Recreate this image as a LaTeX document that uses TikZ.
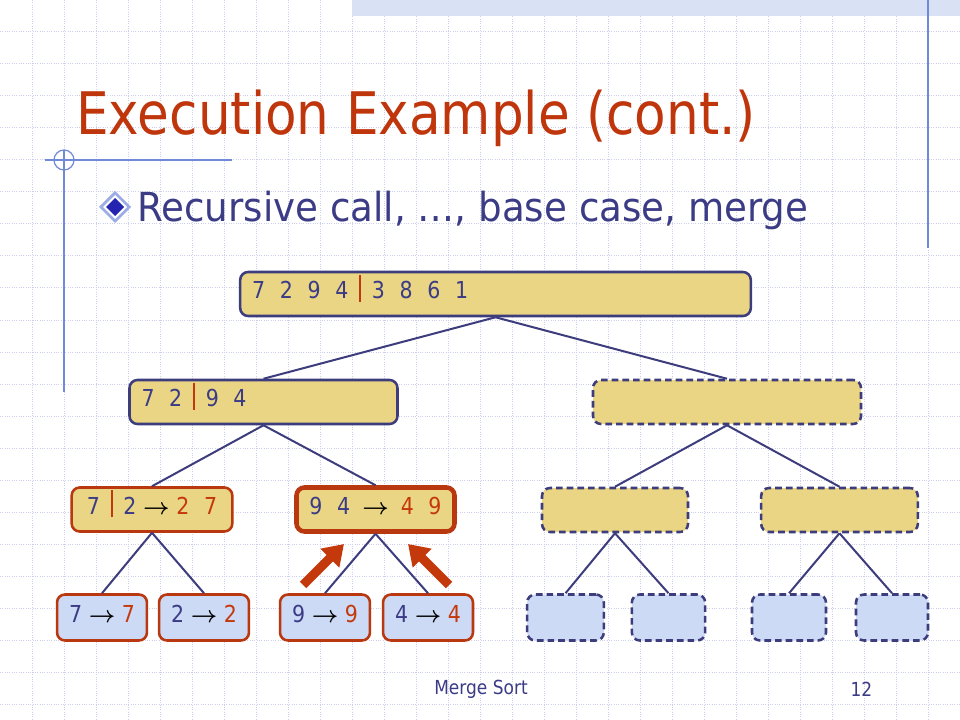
\documentclass[tikz,border=0pt]{standalone}
\usepackage{fontspec}
\usepackage{amsmath}
\setmainfont{DejaVu Sans}[FakeStretch=0.88]
\newfontfamily\bulletfont{DejaVu Sans}[FakeStretch=0.93]
\usetikzlibrary{arrows.meta,positioning}

\definecolor{sand}{HTML}{E9D583}
\definecolor{sky}{HTML}{CCDAF6}
\definecolor{navy}{HTML}{3D3C7C}
\definecolor{rust}{HTML}{B9380F}
\definecolor{ink}{HTML}{3B3B86}
\definecolor{hot}{HTML}{C4390B}
\definecolor{headred}{HTML}{C0360C}
\definecolor{rule}{HTML}{7289DA}
\definecolor{gridc}{HTML}{CDD0EC}
\definecolor{band}{HTML}{D9E1F5}

\newcommand{\cut}{\hspace{8pt}\textcolor{hot}{\rule[-0.13em]{1.6pt}{1.16em}}\hspace{8pt}}
\newcommand{\sk}{\hspace{11pt}}
\newcommand{\goes}{\hspace{5pt}\textcolor{black}{$\boldsymbol{\rightarrow}$}\hspace{5pt}}
\newcommand{\hl}[1]{\textcolor{hot}{#1}}

\begin{document}
\begin{tikzpicture}[x=0.75pt,y=-0.75pt,
  every node/.style={font=\fontsize{17.5}{20}\selectfont, text=ink},
  seq/.style={rectangle,rounded corners=6pt,draw=navy,line width=1.9pt,fill=sand,
    text height=1.1em,text depth=0.37em,inner xsep=9pt,inner ysep=0pt,minimum height=33pt},
  solved/.style={seq,draw=rust},
  base/.style={seq,draw=rust,fill=sky,minimum height=34.5pt},
  todo/.style={seq,dashed,dash pattern=on 5pt off 3pt},
  todo base/.style={todo,fill=sky,minimum height=34.5pt},
  tree/.style={draw=navy,line width=1.5pt},
  push/.style={draw=hot,line width=6.8pt,-{Triangle[length=15pt,width=19pt]}}]

  \useasboundingbox (0,0) rectangle (960,720);
  \fill[white] (0,0) rectangle (960,720);

  % grid paper
  \foreach \gx in {32,64,...,928}
    \draw[gridc,line width=0.75pt,densely dotted] (\gx,0) -- (\gx,720);
  \foreach \gy in {32,64,...,704}
    \draw[gridc,line width=0.75pt,densely dotted] (0,\gy) -- (960,\gy);
  \fill[band] (352,0) rectangle (960,16);

  % slide rules
  \draw[rule,line width=0.9pt] (928,0) -- (928,248);
  \draw[rule,line width=0.9pt] (45,160) -- (232,160);
  \draw[rule,line width=0.9pt] (64,150) -- (64,392);
  \draw[rule,line width=0.9pt] (64,160) circle [radius=10];

  % heading
  \node[anchor=base west,inner sep=0pt,text=headred,font=\fontsize{44}{50}\selectfont]
    (title) at (76,135) {Execution Example (cont.)};
  \fill[rule!70] (115,191) -- (131,207) -- (115,223) -- (99,207) -- cycle;
  \fill[white] (115,195) -- (127,207) -- (115,219) -- (103,207) -- cycle;
  \fill[navy!60!blue] (115,198) -- (124,207) -- (115,216) -- (106,207) -- cycle;
  \node[anchor=base west,inner sep=0pt,font=\bulletfont\fontsize{30}{36}\selectfont]
    (bullet) at (137,222) {Recursive call, …, base case, merge};

  % recursion tree
  \node[seq,minimum width=383pt,text width=365pt,align=left] (all) at (495.5,294)
    {7\sk2\sk9\sk4\cut3\sk8\sk6\sk1};
  \node[seq,minimum width=201pt,text width=183pt,align=left] (half_l) at (263.5,402)
    {7\sk2\cut9\sk4};
  \node[todo,minimum width=201pt] (half_r) at (727,402) {};

  \node[solved,minimum width=120.5pt] (q_1) at (152,509.5)
    {7\cut2\goes\hl{2\sk7}};
  \node[solved,line width=3.4pt,inner xsep=3pt,minimum width=118.5pt] (q_2) at (375.5,509.5)
    {9\hspace{11pt}4\hspace{4pt}\goes\hspace{4pt}\hl{4\hspace{11pt}9}};
  \node[todo,minimum width=109.5pt] (q_3) at (615,510) {};
  \node[todo,minimum width=117.5pt] (q_4) at (839.5,510) {};

  \node[base,minimum width=57pt] (s_1) at (102,617.5) {7\goes\hl{7}};
  \node[base,minimum width=66pt] (s_2) at (204,617.5) {2\goes\hl{2}};
  \node[base,minimum width=55.5pt] (s_3) at (325,617.5) {9\goes\hl{9}};
  \node[base,minimum width=54pt] (s_4) at (428,617.5) {4\goes\hl{4}};
  \node[todo base,minimum width=57.5pt] (s_5) at (565.5,617.5) {};
  \node[todo base,minimum width=55pt] (s_6) at (668.5,617.5) {};
  \node[todo base,minimum width=55.5pt] (s_7) at (789,617.5) {};
  \node[todo base,minimum width=54pt] (s_8) at (892,617.5) {};

  \path[tree]
    (all.south) edge (half_l.north)
    (all.south) edge (half_r.north)
    (half_l.south) edge (q_1.north)
    (half_l.south) edge (q_2.north)
    (half_r.south) edge (q_3.north)
    (half_r.south) edge (q_4.north)
    (q_1.south) edge (s_1.north)
    (q_1.south) edge (s_2.north)
    (q_2.south) edge (s_3.north)
    (q_2.south) edge (s_4.north)
    (q_3.south) edge (s_5.north)
    (q_3.south) edge (s_6.north)
    (q_4.south) edge (s_7.north)
    (q_4.south) edge (s_8.north);

  % merge arrows
  \coordinate (tail_l) at (303,585);
  \coordinate (tip_l) at (344,544);
  \coordinate (tail_r) at (449,585);
  \coordinate (tip_r) at (408,544);
  \draw[push] (tail_l) -- (tip_l);
  \draw[push] (tail_r) -- (tip_r);

  % footer
  \node[font=\fontsize{14.5}{17}\selectfont] (footer) at (481,689) {Merge Sort};
  \node[anchor=east,font=\fontsize{14.5}{17}\selectfont] (page) at (877,689) {12};
\end{tikzpicture}
\end{document}
